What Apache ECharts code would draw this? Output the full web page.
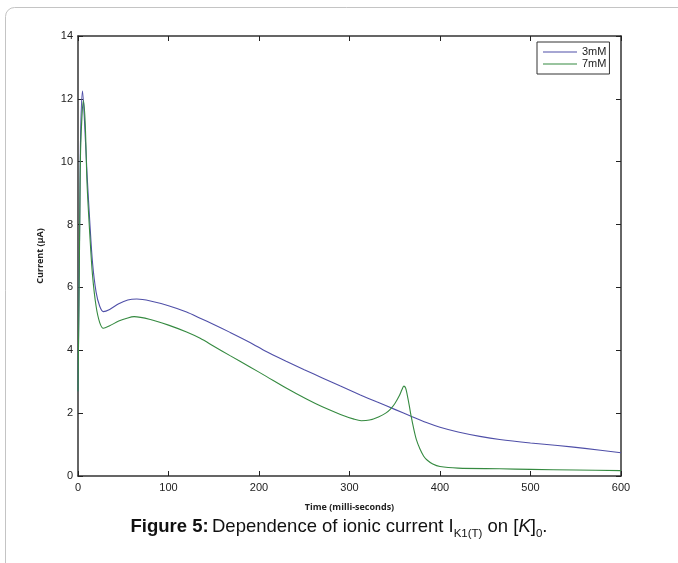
<!DOCTYPE html>
<html>
<head>
<meta charset="utf-8">
<script src="https://cdn.jsdelivr.net/npm/echarts@6/dist/echarts.min.js"></script>
<style>
    html, body { margin: 0; padding: 0; background: #fff; }
    #chart { width: 678px; height: 563px; }
</style>
</head>
<body>
<div id="chart"></div>
<script>
// 3mM curve
var time3 = [0, 1, 2, 3, 5, 7, 10, 13, 16, 20, 24, 28, 35, 45, 55, 65, 80, 100, 120, 135, 150, 168, 190, 208,
    230, 250, 270, 290, 312, 330, 350, 368, 385, 400, 420, 444, 466, 500, 530, 560, 600];
var current3 = [2.7, 5.5, 8.5, 11, 12.25, 11.4, 9.6, 8.1, 6.8, 5.85, 5.4, 5.23, 5.3, 5.48, 5.6, 5.63, 5.57, 5.42, 5.22, 5.02, 4.82, 4.57, 4.25, 3.96,
    3.65, 3.38, 3.12, 2.86, 2.58, 2.36, 2.12, 1.9, 1.7, 1.55, 1.4, 1.26, 1.16, 1.05, 0.97, 0.88, 0.74];

// 7mM curve
var time7 = [0, 1, 2, 3, 6, 8, 10, 13, 16, 20, 24, 28, 35, 45, 55, 62, 80, 100, 120, 135, 150, 168, 190, 208,
    230, 253, 270, 290, 305, 313, 322, 332, 340, 345, 350, 355, 358, 360, 362, 364, 366, 368, 371, 374, 378, 382,
    386, 392, 400, 420, 466, 500, 550, 600];
var current7 = [2.7, 5.3, 8.2, 10.5, 11.95, 11.2, 9.3, 7.7, 6.4, 5.4, 4.88, 4.7, 4.78, 4.93, 5.03, 5.07, 4.98, 4.8, 4.58, 4.38, 4.13, 3.83, 3.47, 3.17,
    2.8, 2.44, 2.2, 1.96, 1.81, 1.76, 1.78, 1.88, 2.0, 2.12, 2.3, 2.55, 2.75, 2.86, 2.8, 2.55, 2.25, 1.92, 1.5, 1.15, 0.85, 0.63,
    0.5, 0.38, 0.3, 0.25, 0.23, 0.21, 0.19, 0.17];

var seriesNames = ['3mM', '7mM'];
var xTicks = {min: 0, max: 600, interval: 100};
var yTicks = {min: 0, max: 14, interval: 2};

function pairs(xs, ys) {
    return xs.map(function (x, i) { return [x, ys[i]]; });
}

var chart = echarts.init(document.getElementById('chart'));

var tickStyle = {show: true, inside: true, length: 5, lineStyle: {color: '#222'}};
var lineStyle = {show: true, onZero: false, lineStyle: {color: '#333', width: 1.5}};

var option = {
    animation: false,
    backgroundColor: '#fff',
    grid: {left: 78, top: 36, right: 57, bottom: 87, containLabel: false},
    legend: {
        data: seriesNames,
        orient: 'vertical',
        left: 537,
        top: 42,
        icon: 'rect',
        itemWidth: 34,
        itemHeight: 1.2,
        itemGap: 0,
        padding: [4, 3, 4, 6],
        borderColor: '#333',
        borderWidth: 1,
        textStyle: {fontFamily: 'Liberation Sans', fontSize: 11, lineHeight: 12, color: '#222', padding: [0, 0, 0, 0]}
    },
    xAxis: [
        {
            type: 'value',
            min: xTicks.min, max: xTicks.max, interval: xTicks.interval,
            name: 'Time (milli-seconds)',
            nameLocation: 'middle',
            nameGap: 27,
            nameTextStyle: {fontFamily: 'Open Sans', fontWeight: 'bold', fontSize: 9, color: '#222'},
            axisLine: lineStyle,
            axisTick: tickStyle,
            axisLabel: {fontFamily: 'Liberation Sans', fontSize: 11, color: '#222', margin: 6},
            splitLine: {show: false}
        },
        {
            type: 'value', position: 'top',
            min: xTicks.min, max: xTicks.max, interval: xTicks.interval,
            axisLine: lineStyle,
            axisTick: tickStyle,
            axisLabel: {show: false},
            splitLine: {show: false}
        }
    ],
    yAxis: [
        {
            type: 'value',
            min: yTicks.min, max: yTicks.max, interval: yTicks.interval,
            name: 'Current (µA)',
            nameLocation: 'middle',
            nameGap: 33,
            nameTextStyle: {fontFamily: 'Open Sans', fontWeight: 'bold', fontSize: 9, color: '#222'},
            axisLine: lineStyle,
            axisTick: tickStyle,
            axisLabel: {fontFamily: 'Liberation Sans', fontSize: 11, color: '#222', margin: 5},
            splitLine: {show: false}
        },
        {
            type: 'value', position: 'right',
            min: yTicks.min, max: yTicks.max, interval: yTicks.interval,
            axisLine: lineStyle,
            axisTick: tickStyle,
            axisLabel: {show: false},
            splitLine: {show: false}
        }
    ],
    series: [
        {
            name: seriesNames[0],
            type: 'line',
            symbol: 'none',
            smooth: 0.3,
            color: '#4f4fa8',
            lineStyle: {width: 1.1},
            data: pairs(time3, current3)
        },
        {
            name: seriesNames[1],
            type: 'line',
            symbol: 'none',
            smooth: 0.3,
            color: '#358a40',
            lineStyle: {width: 1.1},
            data: pairs(time7, current7)
        }
    ],
    graphic: [
        {
            type: 'rect',
            shape: {x: 5.5, y: 7.5, width: 720, height: 620, r: 9},
            style: {fill: 'none', stroke: '#c4c4c4', lineWidth: 1},
            silent: true
        },
        {
            type: 'text',
            left: 'center',
            top: 517,
            style: {
                text: '{b|Figure 5:} {n|Dependence of ionic current I}{s|K1(T)}{n| on [}{i|K}{n|]}{s|0}{n|.}',
                rich: {
                    b: {fontFamily: 'Liberation Sans', fontWeight: 'bold', fontSize: 18.5, lineHeight: 26, verticalAlign: 'middle', fill: '#111'},
                    n: {fontFamily: 'Liberation Sans', fontSize: 18.5, lineHeight: 26, verticalAlign: 'middle', fill: '#111'},
                    i: {fontFamily: 'Liberation Sans', fontStyle: 'italic', fontSize: 18.5, lineHeight: 26, verticalAlign: 'middle', fill: '#111'},
                    s: {fontFamily: 'Liberation Sans', fontSize: 11.5, lineHeight: 14, verticalAlign: 'bottom', fill: '#111'}
                }
            }
        }
    ]
};

chart.setOption(option);
</script>
</body>
</html>
